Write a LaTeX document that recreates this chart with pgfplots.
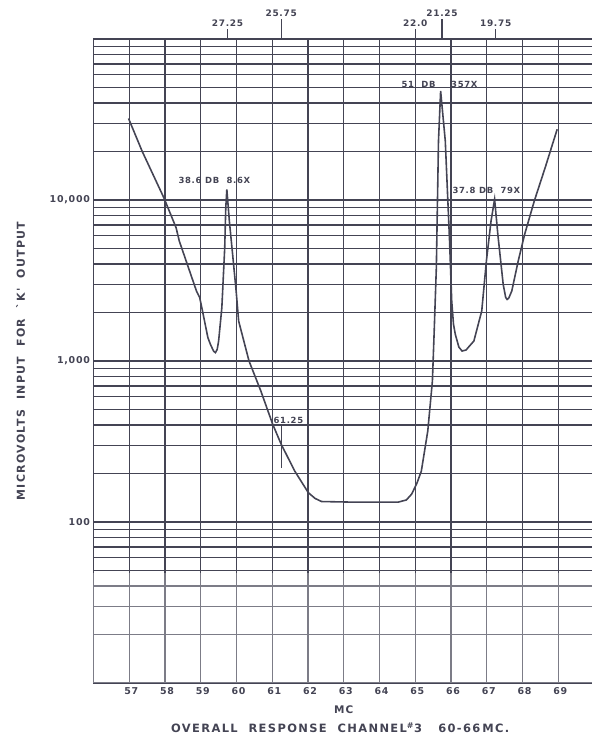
\documentclass[border=0pt]{standalone}
\usepackage{fontspec}
\setmainfont{DejaVu Sans}
\newfontfamily\lett[LetterSpace=12]{DejaVu Sans}
\newfontfamily\letb[LetterSpace=8]{DejaVu Sans}
\usepackage{pgfplots}
\pgfplotsset{compat=1.18}
\definecolor{ink}{RGB}{68,68,84}
\begin{document}
\begin{tikzpicture}
\begin{axis}[
  scale only axis,
  width=500.5bp, height=644bp,
  xmin=56, xmax=70,
  ymode=log, ymin=10, ymax=100000,
  xtick={56,57,58,59,60,61,62,63,64,65,66,67,68,69,70},
  xticklabels={{},57,58,59,60,61,62,63,64,65,66,67,68,69,{}},
  ytick={10,100,1000,10000,100000},
  yticklabels={{},100,{1,000},{10,000},{}},
  minor ytick={20,30,40,50,60,70,80,90,200,300,400,500,600,700,800,900,2000,3000,4000,5000,6000,7000,8000,9000,20000,30000,40000,50000,60000,70000,80000,90000},
  grid=both,
  major grid style={ink, line width=1.15pt},
  minor grid style={ink, line width=1.15pt},
  axis line style={ink, line width=1.3pt},
  major tick length=0pt, minor tick length=0pt,
  xticklabel style={font=\letb\fontsize{9.5}{10}\selectfont\bfseries, text=ink, yshift=-1bp, xshift=2bp},
  yticklabel style={font=\letb\fontsize{9.5}{10}\selectfont\bfseries, text=ink},
  clip=false,
]
\addplot[ink, line width=1.6pt] coordinates {
(56.98,32100) (57.36,20100) (57.97,10300) (58.31,6730) (58.40,5560)
(58.88,2720) (58.97,2480) (59.03,2143) (59.20,1396) (59.27,1270)
(59.36,1150) (59.41,1127) (59.46,1180) (59.50,1331) (59.59,2143)
(59.67,5020) (59.70,8960) (59.73,11640) (59.80,7410) (59.90,4390)
(59.99,2720) (60.06,1771) (60.35,1000) (60.68,652) (61.01,406)
(61.25,304) (61.63,207) (62.01,152) (62.20,140) (62.38,134)
(63.13,133) (64.53,133) (64.75,137) (64.90,149) (65.05,175) (65.17,207)
(65.35,367) (65.48,751) (65.53,1535) (65.59,3800) (65.65,23300)
(65.71,47500) (65.84,23300) (65.96,5560) (66.02,2360) (66.07,1690)
(66.12,1466) (66.22,1220) (66.31,1153) (66.42,1170) (66.64,1331) (66.86,2046)
(66.99,4180) (67.12,7410) (67.22,10100) (67.31,6120) (67.46,2990)
(67.53,2480) (67.57,2410) (67.62,2470) (67.70,2720) (67.88,4180) (68.06,6120)
(68.33,9860) (68.65,16300) (68.97,27500)
};
\fill[white, opacity=0.3] (axis cs:56,10) rectangle (axis cs:70,48);
% annotations
\begin{scope}[every node/.style={text=ink, font=\letb\fontsize{8.5}{9}\selectfont\bfseries}]
\node at (axis cs:59.38,13300) {38.6 DB\ \ 8.6X};
\node at (axis cs:65.68,52500) {51\ \ DB\quad\ \ 357X};
\node at (axis cs:66.99,11400) {37.8 DB\ \ 79X};
\node[anchor=south west, inner sep=0.5bp] at (axis cs:61.02,406) {61.25};
\end{scope}
\draw[ink, line width=1.2pt] (axis cs:61.25,406) -- (axis cs:61.25,217);
% top frequency marks
\begin{scope}[every node/.style={text=ink, font=\letb\fontsize{9}{10}\selectfont\bfseries, inner sep=1.5bp}]
\draw[ink, line width=1.2pt] (axis cs:59.75,100000) -- ([yshift=10bp]axis cs:59.75,100000) node[above] {27.25};
\draw[ink, line width=1.2pt] (axis cs:61.25,100000) -- ([yshift=20bp]axis cs:61.25,100000) node[above] {25.75};
\draw[ink, line width=1.2pt] (axis cs:65.0,100000) -- ([yshift=10bp]axis cs:65.0,100000) node[above] {22.0};
\draw[ink, line width=1.2pt] (axis cs:65.75,100000) -- ([yshift=20bp]axis cs:65.75,100000) node[above] {21.25};
\draw[ink, line width=1.2pt] (axis cs:67.25,100000) -- ([yshift=10bp]axis cs:67.25,100000) node[above] {19.75};
\end{scope}
\node[text=ink, font=\lett\fontsize{10.5}{11}\selectfont\bfseries] at ([yshift=-27bp]axis cs:63,10) {MC};
\node[text=ink, font=\lett\fontsize{11.5}{12}\selectfont\bfseries] at ([yshift=-45bp]axis cs:62.9,10) {OVERALL\ \ RESPONSE\ \ CHANNEL\textsuperscript{\#}3\ \ \ 60-66\,MC.};
\node[rotate=90, text=ink, font=\lett\fontsize{11}{12}\selectfont\bfseries] at ([xshift=-73bp]rel axis cs:0,0.5) {MICROVOLTS\ \ INPUT\ \ FOR\ \ `K'\ \ OUTPUT};
\coordinate (sw) at (rel axis cs:0,0);
\coordinate (ne) at (rel axis cs:1,1);
\end{axis}
\pgfresetboundingbox
\path ([shift={(-93.5bp,-54bp)}]sw) rectangle ([shift={(-2bp,39bp)}]ne);
\end{tikzpicture}
\end{document}
